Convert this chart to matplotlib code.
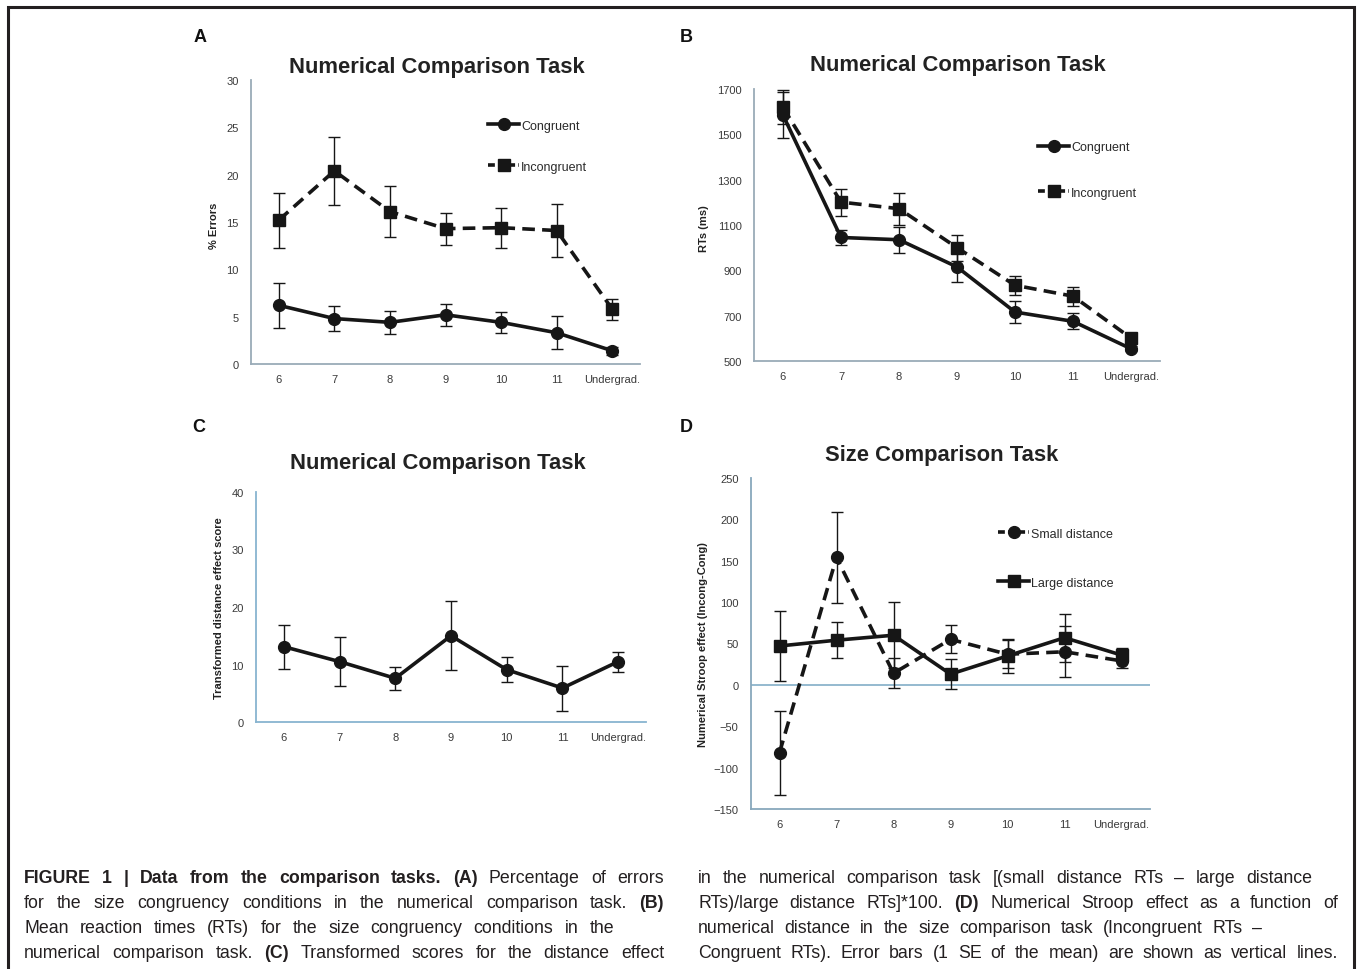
import matplotlib
matplotlib.use("Agg")
import matplotlib.pyplot as plt
from matplotlib.lines import Line2D
import numpy as np

plt.rcParams['font.family'] = ['Liberation Sans', 'DejaVu Sans']

W, H = 1359, 970

groups = ['6', '7', '8', '9', '10', '11', 'Undergrad.']

# A - % errors, numerical comparison
err_cong = [6.2, 4.8, 4.4, 5.2, 4.4, 3.3, 1.4]
err_cong_se = [2.4, 1.3, 1.2, 1.15, 1.1, 1.75, 0.4]
err_incong = [15.2, 20.4, 16.1, 14.3, 14.4, 14.1, 5.8]
err_incong_se = [2.9, 3.6, 2.7, 1.7, 2.1, 2.75, 1.1]

# B - RTs, numerical comparison
rt_cong = [1585, 1045, 1035, 915, 716, 675, 554]
rt_cong_se = [100, 33, 58, 68, 47, 36, 10]
rt_incong = [1619, 1201, 1172, 1000, 834, 786, 601]
rt_incong_se = [75, 60, 70, 58, 42, 42, 6]

# C - transformed distance effect
dist_score = [13.1, 10.5, 7.6, 15.0, 9.1, 5.9, 10.5]
dist_se = [3.8, 4.25, 2.0, 6.0, 2.15, 3.9, 1.75]

# D - numerical stroop effect, size comparison
stroop_small = [-82, 154, 14, 55, 37, 40, 29]
stroop_small_se = [51, 55, 18, 17, 17, 31, 9]
stroop_large = [47, 54, 60, 13, 35, 57, 36]
stroop_large_se = [42, 22, 40, 18, 21, 29, 8]

INK = '#161616'
DASH = (0, (3.5, 2))


def px_axes(l, r, t, b):
    return [l / W, 1 - b / H, (r - l) / W, (b - t) / H]


def style(ax, ylim, yticks, spine_col):
    x = np.arange(len(groups))
    ax.set_xlim(-0.5, len(groups) - 0.5)
    ax.set_ylim(*ylim)
    ax.set_yticks(yticks)
    ax.set_xticks(x)
    ax.set_xticklabels(groups)
    for s in ['top', 'right']:
        ax.spines[s].set_visible(False)
    for s in ['left', 'bottom']:
        ax.spines[s].set_color(spine_col)
        ax.spines[s].set_linewidth(1.3)
    ax.tick_params(length=0, labelsize=8, colors='#3a3a3a')
    ax.tick_params(axis='x', pad=7)
    ax.tick_params(axis='y', pad=9)


def series(ax, y, se, ls, mk):
    x = np.arange(len(groups))
    ax.errorbar(x, y, yerr=se, color=INK, ls=ls, marker=mk, ms=8.5, lw=2.6,
                elinewidth=1.0, capsize=4, capthick=1.0)


def handle(dashed, mk):
    ls = (0, (1.9, 0.9)) if dashed else '-'
    return Line2D([], [], color=INK, lw=2.6, ls=ls, marker=mk, ms=8.5)


def legend(ax, items, x, y, spacing):
    hs = [handle(d, m) for d, m, _ in items]
    ls = [t for _, _, t in items]
    ax.legend(hs, ls, loc='upper left', bbox_to_anchor=(x, y), frameon=False,
              fontsize=9, handlelength=2.5, handletextpad=0.15,
              labelspacing=spacing, borderpad=0, borderaxespad=0, numpoints=1,
              labelcolor='#2a2a2a')


fig = plt.figure(figsize=(W / 100, H / 100), dpi=100)

# figure frame
fig.add_artist(plt.Rectangle((8 / W, -0.01), (1354 - 8) / W, 1 - 8 / H + 0.01,
                             transform=fig.transFigure, fill=False,
                             ec='#231f20', lw=2.2))

# A
axA = fig.add_axes(px_axes(251, 640, 81, 365))
style(axA, (0, 30), range(0, 31, 5), '#9aabb8')
series(axA, err_cong, err_cong_se, '-', 'o')
series(axA, err_incong, err_incong_se, DASH, 's')
axA.set_ylabel('% Errors', fontsize=8, fontweight='bold', color='#222')
axA.yaxis.set_label_coords(-0.082, 0.49)
legend(axA, [(False, 'o', 'Congruent'), (True, 's', 'Incongruent')],
       0.609, 0.86, 2.3)

# B
axB = fig.add_axes(px_axes(754, 1160, 90, 362))
style(axB, (500, 1700), range(500, 1701, 200), '#9aabb8')
series(axB, rt_cong, rt_cong_se, '-', 'o')
series(axB, rt_incong, rt_incong_se, DASH, 's')
axB.set_ylabel('RTs (ms)', fontsize=8, fontweight='bold', color='#222')
axB.yaxis.set_label_coords(-0.111, 0.49)
legend(axB, [(False, 'o', 'Congruent'), (True, 's', 'Incongruent')],
       0.70, 0.807, 2.65)

# C
axC = fig.add_axes(px_axes(256, 646, 493, 723))
style(axC, (0, 40), range(0, 41, 10), '#88b4d0')
series(axC, dist_score, dist_se, '-', 'o')
axC.set_ylabel('Transformed distance effect score', fontsize=8,
               fontweight='bold', color='#222')
axC.yaxis.set_label_coords(-0.082, 0.5)

# D
axD = fig.add_axes(px_axes(751, 1150, 479, 810))
style(axD, (-150, 250), range(-150, 251, 50), '#88a8bc')
axD.axhline(0, color='#8cb4cc', lw=1.3, zorder=0)
series(axD, stroop_small, stroop_small_se, DASH, 'o')
series(axD, stroop_large, stroop_large_se, '-', 's')
axD.set_ylabel('Numerical Stroop effect (Incong-Cong)', fontsize=8,
               fontweight='bold', color='#222')
axD.yaxis.set_label_coords(-0.108, 0.5)
legend(axD, [(True, 'o', 'Small distance'), (False, 's', 'Large distance')],
       0.619, 0.85, 2.95)

# titles and panel letters
titles = [('Numerical Comparison Task', 437, 68),
          ('Numerical Comparison Task', 958, 65),
          ('Numerical Comparison Task', 438, 463),
          ('Size Comparison Task', 942, 455)]
for t, x, y in titles:
    fig.text(x / W, 1 - y / H, t, ha='center', va='center', fontsize=15.8,
             fontweight='bold', color='#222')
for t, x, y in [('A', 200, 37), ('B', 686, 37), ('C', 199, 428), ('D', 686, 428)]:
    fig.text(x / W, 1 - y / H, t, ha='center', va='center', fontsize=13,
             fontweight='bold', color='#111')

# caption, each line spread between its own left and right edge
cap_left = [
    ([('FIGURE 1 | Data from  the comparison tasks. (A)', True),
      ('Percentage of errors', False)], 664),
    ([('for the size congruency conditions in the numerical comparison task.', False),
      ('(B)', True)], 664),
    ([('Mean reaction times (RTs) for the size congruency conditions in the', False)], 614),
    ([('numerical comparison task.', False), ('(C)', True),
      ('Transformed scores for the distance effect', False)], 664),
]
cap_right = [
    ([('in the numerical comparison task [(small distance RTs \u2013 large distance', False)], 1312),
    ([('RTs)/large distance RTs]*100.', False), ('(D)', True),
      ('Numerical Stroop effect as a function of', False)], 1338),
    ([('numerical distance in the size comparison task (Incongruent RTs \u2013', False)], 1262),
    ([('Congruent RTs). Error bars (1 SE of the mean) are shown as vertical lines.', False)], 1338),
]

fig.canvas.draw()
r = fig.canvas.get_renderer()


def caption_col(lines, x0, y0, dy):
    for i, (segs, x1) in enumerate(lines):
        y = 1 - (y0 + i * dy) / H
        texts = []
        for seg, bold in segs:
            for w in seg.split():
                texts.append(fig.text(0, y, w, fontsize=12.8,
                                      fontweight='bold' if bold else 'normal',
                                      color='#231f20', va='baseline'))
        widths = [t.get_window_extent(r).width for t in texts]
        gap = (x1 - x0 - sum(widths)) / (len(texts) - 1)
        x = x0
        for t, w in zip(texts, widths):
            t.set_x(x / W)
            x += w + gap


caption_col(cap_left, 24, 883, 25)
caption_col(cap_right, 698, 883, 25)

fig.savefig('out.png', dpi=100)
